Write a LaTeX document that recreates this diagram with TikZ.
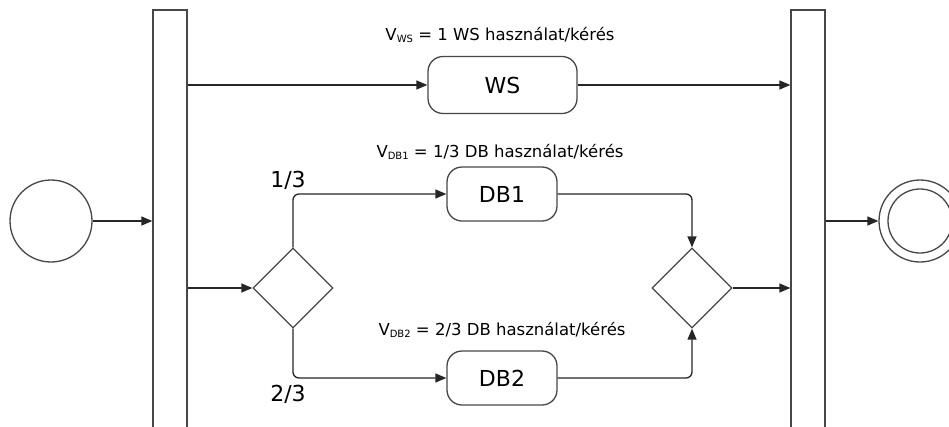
\documentclass[tikz,border=0pt]{standalone}
\usepackage{fontspec}
\setmainfont{DejaVu Sans}
\usetikzlibrary{arrows.meta,shapes.geometric}
\begin{document}
\begin{tikzpicture}[x=1pt,y=-1pt,
  shapeline/.style={draw=black!72, line width=1.3pt},
  bar/.style={shapeline, fill=white, minimum width=34pt, minimum height=430pt, inner sep=0pt},
  act/.style={shapeline, rounded corners=15pt, minimum width=110pt, minimum height=54pt, inner sep=0pt, font=\fontsize{22}{26}\selectfont},
  dec/.style={shapeline, diamond, shape aspect=1, minimum size=80pt, inner sep=0pt},
  ini/.style={shapeline, circle, minimum size=82pt, inner sep=0pt},
  conn/.style={draw=black!85, line width=1.3pt, rounded corners=6pt},
  arr/.style={conn, -{Triangle[length=11pt,width=9pt]}},
  lbl/.style={font=\fontsize{16.5}{19}\selectfont, inner sep=0pt},
  sub/.style={},
  frac/.style={font=\fontsize{22}{26}\selectfont, inner sep=0pt}
]
\clip (0,0) rectangle (949,426);
\fill[white] (0,0) rectangle (949,426);

\node[bar] (lbar) at (170,225) {};
\node[bar] (rbar) at (808,225) {};
\node[ini] (start) at (51,221) {};
\node[ini] (end) at (920,221) {};
\node[shapeline, circle, minimum size=64pt, inner sep=0pt] (endin) at (end) {};

\node[act, minimum width=149pt, minimum height=57pt] (ws) at (502.5,85) {WS};
\node[act] (db1) at (502,194) {DB1};
\node[act] (db2) at (502,378) {DB2};

\node[dec] (d1) at (293,288) {};
\node[dec] (d2) at (692,288) {};

\node[lbl] (lws) at (500,35) {V\raisebox{-2.5pt}{\fontsize{10}{10}\selectfont WS} = 1 WS használat/kérés};
\node[lbl] (ldb1) at (500,152) {V\raisebox{-2.5pt}{\fontsize{10}{10}\selectfont DB1} = 1/3 DB használat/kérés};
\node[lbl] (ldb2) at (502,330) {V\raisebox{-2.5pt}{\fontsize{10}{10}\selectfont DB2} = 2/3 DB használat/kérés};
\node[frac] (f1) at (288,180) {1/3};
\node[frac] (f2) at (288,394) {2/3};

\draw[arr] (start.east) -- (start.east -| lbar.west);
\draw[arr] (lbar.east |- ws.west) -- (ws.west);
\draw[arr] (ws.east) -- (ws.east -| rbar.west);
\draw[arr] (lbar.east |- d1.west) -- (d1.west);
\draw[arr] (d1.north) |- (db1.west);
\draw[arr] (d1.south) |- (db2.west);
\draw[arr] (db1.east) -| (d2.north);
\draw[arr] (db2.east) -| (d2.south);
\draw[arr] (d2.east) -- (d2.east -| rbar.west);
\draw[arr] (rbar.east |- end.west) -- (end.west);
\end{tikzpicture}
\end{document}
